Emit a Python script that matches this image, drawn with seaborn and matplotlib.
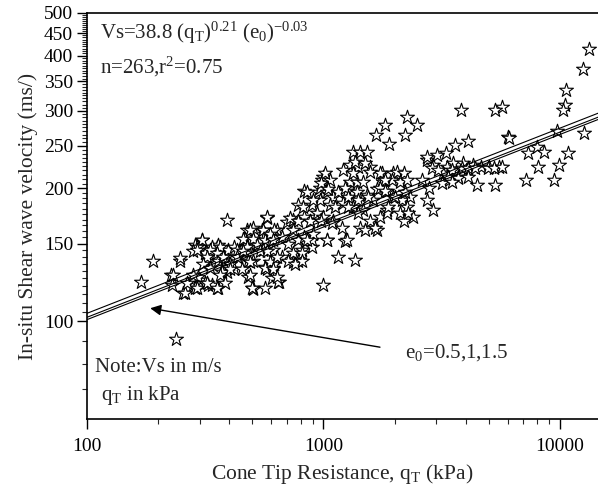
import numpy as np
import pandas as pd
import matplotlib
matplotlib.use("Agg")
import matplotlib.pyplot as plt
import matplotlib.ticker as mticker
import seaborn as sns

# ---- data ----
qT = [170, 190, 247, 227, 229, 255, 238, 292, 310, 355, 281, 300, 325, 358, 325, 390, 400, 480, 503, 505, 503, 576, 610, 650, 740,
      390, 305, 358, 286,
      475, 503, 576, 565, 635, 700, 745, 780,
      306, 338, 315, 348, 375, 278, 295, 315, 338, 260, 286,
      720, 830, 890, 990, 950, 920, 830, 780,
      466, 550, 565, 513, 620, 670, 706, 780, 830, 740,
      358, 395, 420, 450, 433, 385, 395, 372, 420,
      480, 565, 620, 670, 740, 810, 890, 780, 706, 755,
      605, 640, 565,
      1000, 890, 1030, 1230, 1150, 1360, 810, 810,
      576, 490, 456, 503, 555, 595, 612, 525, 475, 430, 555, 612, 292, 281, 365, 330, 247,
      292, 322, 355, 375, 309, 331, 403, 430, 456, 490, 540, 576, 595, 635, 565, 612, 490, 635, 500, 365, 382, 355, 322, 292, 265, 231, 280, 403, 452,
      1330, 1430, 1530, 1290, 1400, 1570, 1770, 1970,
      2250, 2490, 2210, 1820, 1670, 1890,
      2740, 2900, 3300, 2900,
      3330, 3540, 3880, 4270, 4650, 5030, 5520,
      2740, 2870, 2600, 2800, 2740,
      3200, 3400, 3700, 4100,
      2050, 2180, 1950, 2100, 2250,
      1740, 1790, 1680, 1860, 1970, 2150, 2330, 2250, 2390, 2100, 2180,
      1290, 1380, 1470, 1210, 1330,
      1260, 1380, 1530, 1620,
      1210, 1330, 1470, 1570, 1740, 1860,
      1000, 1070, 970, 1030, 1100, 970, 1070,
      850, 900, 820, 940, 880, 1000, 1100,
      1430, 1680, 1860,
      1030, 1260, 900, 850,
      1360, 1500, 1570, 1820, 1740,
      1010, 980, 1040, 1150, 1230, 1270, 1400, 1540,
      1820, 2000, 2210, 1880, 2270,
      3030, 3060,
      1120, 1270, 1400, 980, 1090, 1200, 1500, 1650,
      13300, 12500, 10600, 10500, 10300, 9700, 12600, 10800, 9900, 9400, 7200, 8100, 7300, 8000, 8600, 6000, 6100,
      5700, 5300, 3800, 3600, 4100, 4440, 5300,
      3480, 3850, 4090, 4380, 4960, 5280, 5690, 3370, 3700, 4090, 3160, 3480]
Vs = [123, 137, 137, 127, 121, 116, 91, 148, 147, 147, 121, 124, 121, 119, 137, 129, 135, 126, 119, 118, 137, 131, 132, 123, 136,
      170, 153, 149, 149,
      161, 163, 171, 158, 161, 168, 170, 183,
      153, 147, 143, 140, 141, 124, 126, 122, 121, 116, 119,
      171, 197, 183, 209, 196, 172, 172, 169,
      154, 161, 153, 147, 161, 155, 150, 153, 155, 161,
      137, 145, 147, 145, 140, 137, 133, 129, 131,
      137, 133, 135, 140, 143, 145, 147, 137, 137, 135,
      125, 123, 119,
      121, 153, 153, 152, 140, 138, 143, 137,
      172, 161, 154, 154, 161, 158, 153, 149, 147, 145, 145, 145, 147, 144, 147, 145, 139,
      145, 140, 143, 140, 135, 132, 135, 140, 144, 136, 144, 144, 136, 140, 132, 131, 127, 126, 119, 127, 122, 119, 122, 119, 122, 127, 127, 131, 131,
      242, 242, 242, 226, 224, 224, 217, 217,
      290, 278, 264, 278, 264, 252,
      232, 226, 241, 179,
      224, 228, 228, 226, 224, 224, 224,
      236, 222, 209, 201, 188,
      217, 209, 212, 220,
      218, 217, 209, 207, 209,
      217, 207, 199, 197, 191, 188, 191, 182, 172, 176, 169,
      207, 207, 207, 220, 217,
      197, 196, 193, 188,
      185, 182, 179, 169, 172, 179,
      212, 209, 201, 196, 191, 188, 183,
      196, 188, 182, 176, 169, 172, 169,
      163, 161, 176,
      153, 153, 158, 153,
      230, 228, 218, 209, 201,
      217, 206, 199, 196, 201, 191, 188, 191,
      197, 191, 196, 182, 176,
      238, 220,
      182, 182, 176, 169, 167, 163, 161, 163,
      414, 373, 334, 309, 301, 270, 267, 241, 226, 209, 209, 224, 241, 248, 242, 262, 260,
      306, 301, 301, 251, 256, 204, 204,
      220, 222, 222, 222, 222, 222, 224, 212, 211, 212, 206, 207]

e0_values = [0.5, 1.0, 1.5]
coef, b_q, b_e = 38.8, 0.21, -0.03

y_major = [100, 150, 200, 250, 300, 350, 400, 450, 500]

# ---- style ----
sns.set_style("ticks")
plt.rcParams["font.family"] = ["Liberation Serif", "DejaVu Serif"]
plt.rcParams["mathtext.default"] = "regular"
plt.rcParams["mathtext.fontset"] = "custom"
plt.rcParams["mathtext.rm"] = "Liberation Serif"

fig = plt.figure(figsize=(5.98, 4.87), dpi=100)
ax = fig.add_axes([87 / 598, 1 - 419 / 487, 1 - 87 / 598, (419 - 13) / 487])

df = pd.DataFrame({"qT": qT, "Vs": Vs})
sns.scatterplot(data=df, x="qT", y="Vs", marker="*", s=110, facecolor="white",
                edgecolor="black", linewidth=0.8, ax=ax, zorder=3)

qgrid = np.logspace(2, np.log10(15000), 60)
for e0 in e0_values:
    vline = coef * qgrid ** b_q * e0 ** b_e
    sns.lineplot(x=qgrid, y=vline, color="black", lw=0.8, ax=ax, zorder=4)

ax.set_xscale("log")
ax.set_yscale("log")
ax.set_xlim(100, 14480)
ax.set_ylim(60, 500)

ax.yaxis.set_major_locator(mticker.FixedLocator(y_major))
ax.yaxis.set_major_formatter(mticker.FixedFormatter([str(v) for v in y_major]))
minor_y = [v for v in list(range(70, 100, 10)) + list(range(105, 500, 5)) if v not in y_major]
ax.yaxis.set_minor_locator(mticker.FixedLocator(minor_y))
ax.yaxis.set_minor_formatter(mticker.NullFormatter())

ax.xaxis.set_major_locator(mticker.FixedLocator([100, 1000, 10000]))
ax.xaxis.set_major_formatter(mticker.FixedFormatter(["100", "1000", "10000"]))
ax.xaxis.set_minor_locator(mticker.LogLocator(base=10, subs=np.arange(2, 10)))
ax.xaxis.set_minor_formatter(mticker.NullFormatter())

ax.tick_params(which="major", direction="out", length=7, width=1, labelsize=14, colors="black")
ax.tick_params(which="minor", direction="out", length=3.5, width=0.8)
ax.tick_params(axis="x", pad=7)
ax.tick_params(axis="y", pad=3)

for s in ["left", "bottom", "top"]:
    ax.spines[s].set_visible(True)
    ax.spines[s].set_linewidth(1.2)
    ax.spines[s].set_color("black")
ax.spines["right"].set_visible(False)

ax.set_xlabel("Cone Tip Resistance, q$_T$ (kPa)", fontsize=15.5, labelpad=5)
ax.set_ylabel("In-situ Shear wave velocity (ms/)", fontsize=15.5, labelpad=4)

ax.text(0.025, 0.951, "Vs=38.8 (q$_T$)$^{0.21}$ (e$_0$)$^{-0.03}$", transform=ax.transAxes,
        fontsize=15, ha="left", va="center")
ax.text(0.025, 0.867, "n=263,r$^2$=0.75", transform=ax.transAxes,
        fontsize=15, ha="left", va="center")
ax.text(0.016, 0.126, "Note:Vs in m/s", transform=ax.transAxes,
        fontsize=15, ha="left", va="center")
ax.text(0.027, 0.059, "q$_T$ in kPa", transform=ax.transAxes,
        fontsize=15, ha="left", va="center")

ax.annotate("", xy=(185, 107), xytext=(1733, 87.3),
            arrowprops=dict(arrowstyle="-|>", color="black", lw=1,
                            mutation_scale=16, shrinkA=0, shrinkB=0))
ax.text(2213, 85.0, "e$_0$=0.5,1,1.5", fontsize=15, ha="left", va="center")

fig.savefig("out.png", dpi=100)
